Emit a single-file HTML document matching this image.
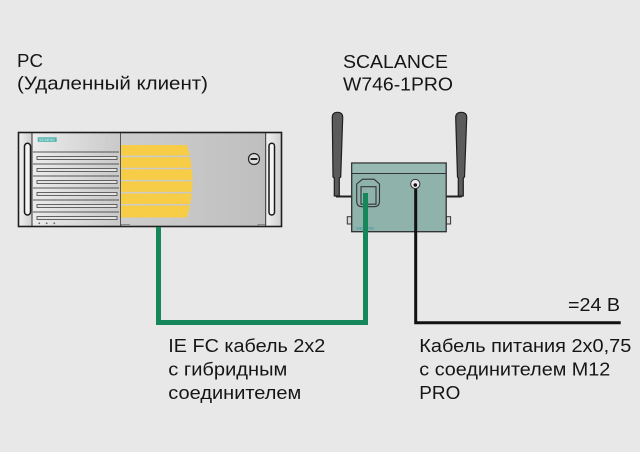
<!DOCTYPE html>
<html><head><meta charset="utf-8"><style>
html,body{margin:0;padding:0;background:#e8e8e8;}
svg{display:block;}
text{font-family:"Liberation Sans","DejaVu Sans",sans-serif;font-size:18.5px;fill:#151515;}
</style></head><body>
<svg width="640" height="452" viewBox="0 0 640 452" xmlns="http://www.w3.org/2000/svg">
<defs>
<linearGradient id="gl" x1="0" y1="0" x2="1" y2="0"><stop offset="0" stop-color="#ececec"/><stop offset="1" stop-color="#c9c9c9"/></linearGradient>
<linearGradient id="gr" x1="0" y1="0" x2="1" y2="0"><stop offset="0" stop-color="#d6d6d6"/><stop offset="0.5" stop-color="#cbcbcb"/><stop offset="1" stop-color="#bdbdbd"/></linearGradient>
<linearGradient id="gh" x1="0" y1="0" x2="1" y2="0"><stop offset="0" stop-color="#f2f2f2"/><stop offset="1" stop-color="#cfcfcf"/></linearGradient>
<clipPath id="yc"><path d="M120.5,145 L187,145 Q198,181 187,217.5 L120.5,217.5 Z"/></clipPath>
</defs>
<rect width="640" height="452" fill="#e8e8e8"/>

<!-- Labels top -->
<text x="17" y="67" textLength="26" lengthAdjust="spacingAndGlyphs">PC</text>
<text x="17" y="89.5" textLength="191" lengthAdjust="spacingAndGlyphs">(Удаленный клиент)</text>
<text x="343" y="68" textLength="105" lengthAdjust="spacingAndGlyphs">SCALANCE</text>
<text x="343" y="90.5" textLength="110" lengthAdjust="spacingAndGlyphs">W746-1PRO</text>

<!-- PC -->
<rect x="18.5" y="132.5" width="263" height="94" fill="url(#gr)"/>
<rect x="18.5" y="132.5" width="13.5" height="94" fill="url(#gh)"/>
<rect x="32" y="132.5" width="88.5" height="94" fill="url(#gl)"/>
<rect x="265.7" y="132.5" width="15.8" height="94" fill="url(#gh)"/>
<g clip-path="url(#yc)" fill="#f7cd48">
<rect x="120.5" y="145" width="80" height="10.6"/>
<rect x="120.5" y="157.2" width="80" height="10.6"/>
<rect x="120.5" y="169.3" width="80" height="10.6"/>
<rect x="120.5" y="181.3" width="80" height="10.6"/>
<rect x="120.5" y="193.4" width="80" height="10.6"/>
<rect x="120.5" y="205.5" width="80" height="12"/>
</g>
<!-- slots -->
<g stroke="#555" stroke-width="0.9" fill="#e4e4e4">
<path d="M33,152 H119" fill="none"/><rect x="37" y="156.5" width="80" height="3"/>
<path d="M33,164 H119" fill="none"/><rect x="37" y="168.5" width="80" height="3"/>
<path d="M33,176 H119" fill="none"/><rect x="37" y="180.5" width="80" height="3"/>
<path d="M33,188 H119" fill="none"/><rect x="37" y="192.5" width="80" height="3"/>
<path d="M33,200 H119" fill="none"/><rect x="37" y="204.5" width="80" height="3"/>
<path d="M33,212 H119" fill="none"/><rect x="37" y="216.5" width="80" height="3"/>
</g>
<g fill="#666"><circle cx="39.3" cy="223.3" r="0.9"/><circle cx="46.7" cy="223.3" r="0.9"/><circle cx="54.3" cy="223.3" r="0.9"/></g>
<rect x="37.7" y="137.3" width="19" height="4.5" fill="#4fb3ad"/>
<text x="39" y="141" style="font-size:3.5px;fill:#e8f6f5">SIEMENS</text>
<!-- handles -->
<rect x="24.5" y="143.3" width="6" height="71.7" rx="3" fill="#f4f4f4" stroke="#1a1a1a" stroke-width="1.5"/>
<rect x="269" y="143.3" width="5.5" height="71.7" rx="2.7" fill="#f4f4f4" stroke="#1a1a1a" stroke-width="1.5"/>
<!-- lock -->
<circle cx="254" cy="159" r="5.5" fill="#dedede" stroke="#222" stroke-width="1.2"/>
<line x1="250.6" y1="159" x2="257.4" y2="159" stroke="#222" stroke-width="2"/>
<!-- feet -->
<path d="M121,226.5 V224.5 H130" fill="none" stroke="#777" stroke-width="0.8"/>
<path d="M258,226.5 V224.5 H265" fill="none" stroke="#777" stroke-width="0.8"/>
<!-- outlines -->
<line x1="32" y1="132.5" x2="32" y2="226.5" stroke="#333" stroke-width="1"/>
<line x1="120.5" y1="132.5" x2="120.5" y2="226.5" stroke="#555" stroke-width="1"/>
<line x1="265.7" y1="132.5" x2="265.7" y2="226.5" stroke="#333" stroke-width="1"/>
<rect x="18.5" y="132.5" width="263" height="94" fill="none" stroke="#1e1e1e" stroke-width="1.6"/>

<!-- Antennas -->
<path d="M337,177 V196.5 H352" fill="none" stroke="#222" stroke-width="2"/>
<path d="M460.8,177 V196.5 H446" fill="none" stroke="#222" stroke-width="2"/>
<path d="M332.3,117.5 Q332.3,112.3 337.5,112.3 Q342.7,112.3 342.7,117.5 L340.7,177 L339.3,178 L339.3,196 L334.3,196 L334.3,178 L333,177 Z" fill="#5b5b5b" stroke="#1e1e1e" stroke-width="1.2"/>
<path d="M455.7,117.5 Q455.7,112.3 461.2,112.3 Q466.7,112.3 466.7,117.5 L464.5,177 L463.3,178 L463.3,196 L458.3,196 L458.3,178 L457.5,177 Z" fill="#5b5b5b" stroke="#1e1e1e" stroke-width="1.2"/>

<!-- Scalance box -->
<rect x="347.3" y="216.7" width="4.4" height="7.3" fill="#d8d8d8" stroke="#333" stroke-width="1"/>
<rect x="446.2" y="216.7" width="4.4" height="7.3" fill="#d8d8d8" stroke="#333" stroke-width="1"/>
<rect x="351.7" y="163" width="94.5" height="68.7" fill="#8fb2ab" stroke="#2e2e2e" stroke-width="1.3"/>
<rect x="352.4" y="163.7" width="93.1" height="9.8" fill="#97b9b2"/>
<line x1="351.7" y1="173.5" x2="446.2" y2="173.5" stroke="#333" stroke-width="1"/>
<path d="M356.7,184 L362.5,179.2 L374,179.2 L379.5,184 L379.5,201 Q379.5,206.7 374,206.7 L362,206.7 Q356.7,206.7 356.7,201 Z" fill="none" stroke="#333" stroke-width="1.1"/>
<rect x="361" y="186.7" width="15" height="17.5" fill="none" stroke="#333" stroke-width="1.1"/>
<text x="356" y="229.5" style="font-size:4px;fill:#2f8fa5">SIEMENS</text>

<!-- Cables -->
<path d="M158.5,227 V322.5 H365.5 V193" fill="none" stroke="#15875a" stroke-width="5" stroke-linejoin="miter"/>
<path d="M415.7,186 V322.7 H620.7" fill="none" stroke="#111" stroke-width="3" stroke-linejoin="miter"/>
<circle cx="415.3" cy="184" r="4.6" fill="#ececec" stroke="#333" stroke-width="1"/>
<circle cx="415.3" cy="185" r="1.8" fill="#111"/>

<!-- Labels bottom -->
<text x="568" y="311" textLength="52" lengthAdjust="spacingAndGlyphs">=24 В</text>
<text x="168.3" y="352" textLength="157" lengthAdjust="spacingAndGlyphs">IE FC кабель 2x2</text>
<text x="168.3" y="375.5" textLength="119" lengthAdjust="spacingAndGlyphs">с гибридным</text>
<text x="168.3" y="399" textLength="133" lengthAdjust="spacingAndGlyphs">соединителем</text>
<text x="419.3" y="352" textLength="212" lengthAdjust="spacingAndGlyphs">Кабель питания 2x0,75</text>
<text x="419.3" y="375.5" textLength="191" lengthAdjust="spacingAndGlyphs">с соединителем M12</text>
<text x="419.3" y="399" textLength="41" lengthAdjust="spacingAndGlyphs">PRO</text>
</svg>
</body></html>
